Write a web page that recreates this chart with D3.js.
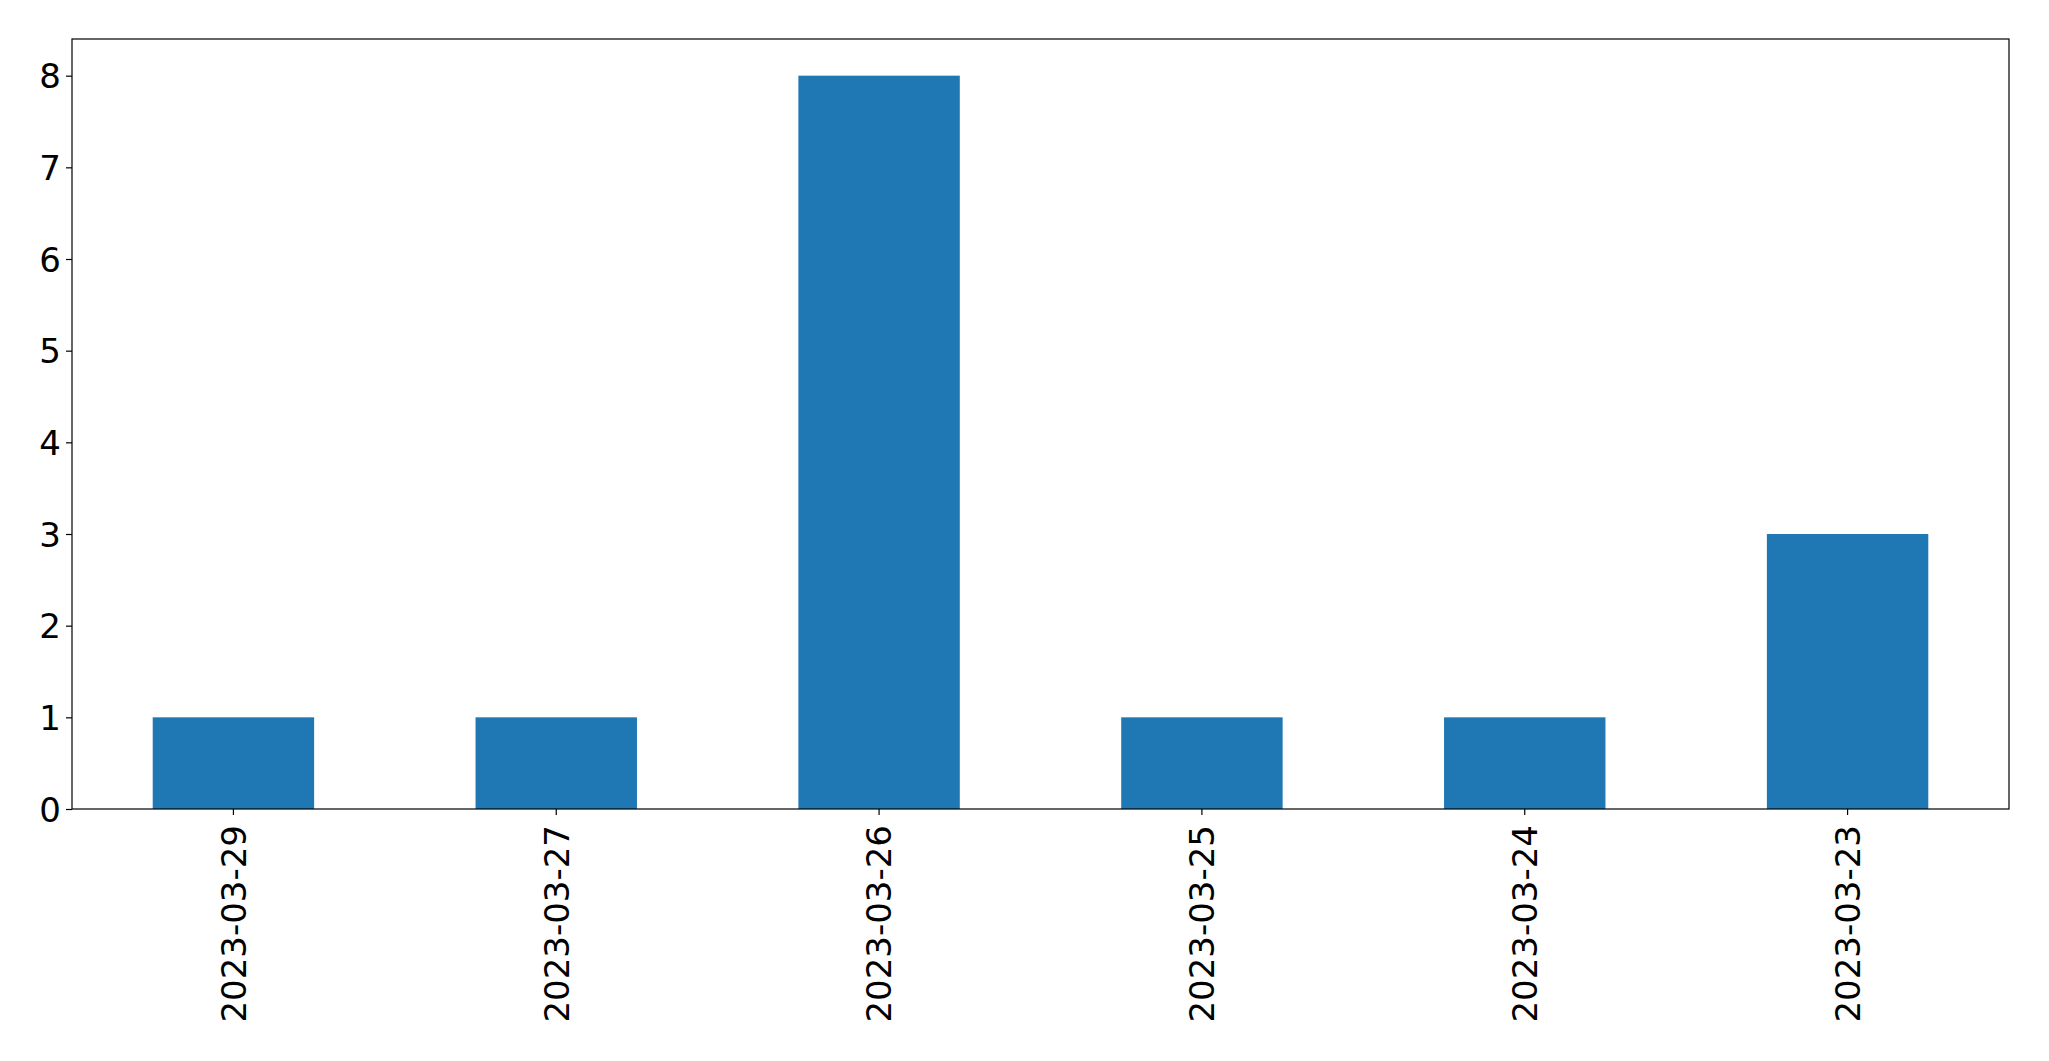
<!DOCTYPE html>
<html>
<head>
<meta charset="utf-8">
<script src="https://cdn.jsdelivr.net/npm/d3@7"></script>
<style>
  body { margin: 0; background: #fff; }
  svg text { font-family: "DejaVu Sans", sans-serif; }
</style>
</head>
<body>
<svg id="chart" width="2049" height="1061"></svg>
<script>
// values
var dates = ["2023-03-29", "2023-03-27", "2023-03-26", "2023-03-25", "2023-03-24", "2023-03-23"];
var counts = [1, 1, 8, 1, 1, 3];
var yTicks = [0, 1, 2, 3, 4, 5, 6, 7, 8];

var W = 2049, H = 1061;
var margin = {top: 39, right: 40, bottom: 252, left: 72};
var innerW = W - margin.left - margin.right;
var innerH = H - margin.top - margin.bottom;

var svg = d3.select("#chart");
var g = svg.append("g")
    .attr("transform", "translate(" + margin.left + "," + margin.top + ")");

// pandas style: bar width 0.5 of a category slot
var x = d3.scaleBand()
    .domain(dates)
    .range([0, innerW])
    .paddingInner(0.5)
    .paddingOuter(0.25);

var y = d3.scaleLinear()
    .domain([0, d3.max(counts) * 1.05])
    .range([innerH, 0]);

g.selectAll("rect.bar")
    .data(dates)
    .enter().append("rect")
    .attr("class", "bar")
    .attr("x", function (d) { return x(d); })
    .attr("y", function (d, i) { return y(counts[i]); })
    .attr("width", x.bandwidth())
    .attr("height", function (d, i) { return innerH - y(counts[i]); })
    .style("fill", "#1f77b4");

// frame
g.append("rect")
    .attr("width", innerW)
    .attr("height", innerH)
    .style("fill", "none")
    .style("stroke", "#000")
    .style("stroke-width", 1.2);

var yAxis = g.append("g")
    .call(d3.axisLeft(y).tickValues(yTicks).tickFormat(d3.format("d")).tickSize(6).tickPadding(5));
yAxis.select(".domain").remove();
yAxis.selectAll(".tick line").style("stroke", "#000").style("stroke-width", 1.2);
yAxis.selectAll(".tick text")
    .style("font-size", "34px")
    .style("fill", "#000")
    .attr("dy", "0.36em");

var xAxis = g.append("g")
    .attr("transform", "translate(0," + innerH + ")")
    .call(d3.axisBottom(x).tickSize(6).tickPadding(0));
xAxis.select(".domain").remove();
xAxis.selectAll(".tick line").style("stroke", "#000").style("stroke-width", 1.2);
xAxis.selectAll(".tick text")
    .style("font-size", "34px")
    .style("fill", "#000")
    .attr("y", 0)
    .attr("x", 0)
    .attr("dy", "0.36em")
    .attr("text-anchor", "end")
    .attr("transform", "translate(0,16) rotate(-90)");
</script>
</body>
</html>
